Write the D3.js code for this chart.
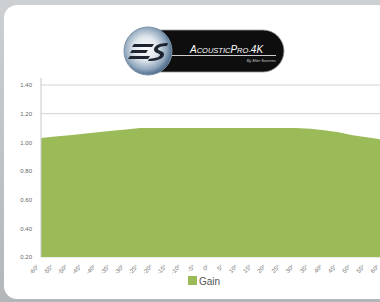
<!DOCTYPE html>
<html>
<head>
<meta charset="utf-8">
<script src="https://cdn.jsdelivr.net/npm/d3@7"></script>
<style>
  body { margin: 0; background: #fff; }
  svg { display: block; }
</style>
</head>
<body>
<svg id="chart"></svg>
<script>
// data
var angles = ["-60°","-55°","-50°","-45°","-40°","-35°","-30°","-25°","-20°","-15°","-10°","-5°","0°",
              "5°","10°","15°","20°","25°","30°","35°","40°","45°","50°","55°","60°"];
var gain = [1.03,1.04,1.05,1.06,1.07,1.08,1.09,1.10,1.10,1.10,1.10,1.10,1.10,
            1.10,1.10,1.10,1.10,1.10,1.10,1.095,1.085,1.07,1.05,1.035,1.02];
var yTicks = [0.20,0.40,0.60,0.80,1.00,1.20,1.40];
var seriesName = "Gain";

function init(){
    var W = 380, H = 302;
    var svg = d3.select("#chart").attr("width", W).attr("height", H);

    var defs = svg.append("defs");
    var bg = defs.append("linearGradient").attr("id","bg").attr("x1",0).attr("y1",0).attr("x2",0).attr("y2",1);
    bg.append("stop").attr("offset","0%").attr("stop-color","#cdd0d2");
    bg.append("stop").attr("offset","100%").attr("stop-color","#b4b7ba");
    var ball = defs.append("radialGradient").attr("id","ball").attr("cx","45%").attr("cy","45%").attr("r","55%");
    ball.append("stop").attr("offset","0%").attr("stop-color","#ffffff");
    ball.append("stop").attr("offset","45%").attr("stop-color","#dfe6ec");
    ball.append("stop").attr("offset","80%").attr("stop-color","#8fa6bc");
    ball.append("stop").attr("offset","100%").attr("stop-color","#4f6d8c");

    // background + white panel
    svg.append("rect").attr("width", W).attr("height", H).attr("fill", "url(#bg)");
    svg.append("rect").attr("x", 4).attr("y", 5).attr("width", 420).attr("height", 294)
        .attr("rx", 13).attr("fill", "#fff");

    // plot dimensions
    var left = 41, right = 381, top = 78, bottom = 257;

    var x = d3.scalePoint().domain(angles).range([left, right]);
    var y = d3.scaleLinear().domain([0.20, 1.40]).range([bottom, 85]);

    // gridlines
    svg.append("g").selectAll("line").data(yTicks).enter().append("line")
        .attr("x1", left).attr("x2", W)
        .attr("y1", function(d){ return y(d); }).attr("y2", function(d){ return y(d); })
        .attr("stroke", "#d4d4d4").attr("stroke-width", 1);

    // area
    var area = d3.area()
        .x(function(d, i){ return x(angles[i]); })
        .y0(y(0.20))
        .y1(function(d){ return y(d); });
    svg.append("path").datum(gain).attr("d", area).attr("fill", "#9bbb59");

    // y axis
    var yAxis = svg.append("g").attr("transform", "translate(" + left + ",0)")
        .call(d3.axisLeft(y).tickValues(yTicks).tickFormat(d3.format(".2f")).tickSize(0).tickPadding(9));
    yAxis.select(".domain").remove();
    yAxis.selectAll("text").attr("font-family", "Liberation Sans, Arial, sans-serif")
        .attr("font-size", 6).attr("fill", "#666");
    svg.append("line").attr("x1", left).attr("x2", left).attr("y1", top).attr("y2", bottom)
        .attr("stroke", "#c8c8c8");

    // x axis
    var xAxis = svg.append("g").attr("transform", "translate(0," + bottom + ")")
        .call(d3.axisBottom(x).tickSize(0).tickPadding(0));
    xAxis.select(".domain").remove();
    xAxis.selectAll("text")
        .attr("font-family", "Liberation Sans, Arial, sans-serif")
        .attr("font-size", 6).attr("fill", "#777")
        .attr("text-anchor", "end")
        .attr("dy", 0)
        .attr("transform", "translate(-2,10) rotate(-45)");

    // legend
    svg.append("rect").attr("x", 188).attr("y", 276).attr("width", 9).attr("height", 9).attr("fill", "#9bbb59");
    svg.append("text").attr("x", 199).attr("y", 285).text(seriesName)
        .attr("font-family", "Liberation Sans, Arial, sans-serif").attr("font-size", 10).attr("fill", "#555");

    // logo
    var logo = svg.append("g");
    logo.append("rect").attr("x", 140).attr("y", 30).attr("width", 144).attr("height", 42).attr("rx", 21)
        .attr("fill", "#0e0e0e").attr("stroke", "#9a9a9a").attr("stroke-width", 0.8);
    logo.append("circle").attr("cx", 148).attr("cy", 51).attr("r", 24)
        .attr("fill", "url(#ball)").attr("stroke", "#7d93a8").attr("stroke-width", 1);
    // stylised E S mark
    logo.append("path").attr("d", "M134,44 L154,44 L152,47 L132,47 Z M132,50 L148,50 L146,53 L130,53 Z M130,56 L150,56 L148,59 L128,59 Z")
        .attr("fill", "#1e2430");
    logo.append("path").attr("d", "M168,43 C160,43 155,45 154,49 C153,53 160,53 160,55 C160,57 156,58 149,59 L148,61 C157,61 163,59 164,55 C165,51 158,51 158,49 C158,47 162,46 167,46 Z")
        .attr("fill", "#1e2430");
    var t = logo.append("text").attr("x", 190).attr("y", 53)
        .attr("font-family", "Liberation Sans, Arial, sans-serif").attr("font-style", "italic")
        .attr("fill", "#fff");
    t.append("tspan").attr("font-size", 10).text("A");
    t.append("tspan").attr("font-size", 7.5).text("COUSTIC");
    t.append("tspan").attr("font-size", 10).text("P");
    t.append("tspan").attr("font-size", 7.5).text("RO-");
    t.append("tspan").attr("font-size", 10).text("4K");
    logo.append("line").attr("x1", 172).attr("x2", 276).attr("y1", 55.5).attr("y2", 55.5)
        .attr("stroke", "#fff").attr("stroke-width", 0.8);
    logo.append("text").attr("x", 276).attr("y", 62).attr("text-anchor", "end")
        .attr("font-family", "Liberation Sans, Arial, sans-serif").attr("font-style", "italic")
        .attr("font-size", 4).attr("fill", "#ccc").text("By Elite Screens");
}
window.onload = init;
</script>
</body>
</html>
